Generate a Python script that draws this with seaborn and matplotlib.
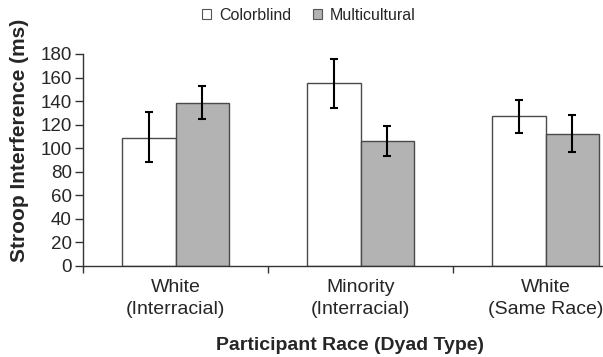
import matplotlib
matplotlib.use("Agg")
import matplotlib.pyplot as plt
from matplotlib.patches import Patch
import seaborn as sns
import pandas as pd

# Data
groups = ["White\n(Interracial)", "Minority\n(Interracial)", "White\n(Same Race)"]
conditions = ["Colorblind", "Multicultural"]
colorblind_mean = [109, 155, 127]
multicultural_mean = [138, 106, 112]
colorblind_lo = [88, 134, 113]
colorblind_hi = [131, 176, 141]
multicultural_lo = [125, 93, 97]
multicultural_hi = [153, 119, 128]
yticks = list(range(0, 181, 20))

PALETTE = {"Colorblind": "#ffffff", "Multicultural": "#b3b3b3"}
EDGE = "#4a4a4a"

sns.set_theme(style="white")
plt.rcParams["font.family"] = ["Liberation Sans", "DejaVu Sans"]

df = pd.DataFrame({
    "group": groups * 2,
    "condition": ["Colorblind"] * 3 + ["Multicultural"] * 3,
    "value": colorblind_mean + multicultural_mean,
})

fig = plt.figure(figsize=(6.03, 3.57), dpi=100)
# axes runs past the right edge of the figure, as in the reference
ax = fig.add_axes([83 / 603, 91 / 357, 555 / 603, 212 / 357])

sns.barplot(data=df, x="group", y="value", hue="condition", order=groups,
            hue_order=conditions, palette=PALETTE, width=0.575, errorbar=None,
            edgecolor=EDGE, linewidth=1.0, legend=False, ax=ax)

# error bars on the bar centers
lo_all = colorblind_lo + multicultural_lo
hi_all = colorblind_hi + multicultural_hi
for patch, lo, hi, m in zip(ax.patches, lo_all, hi_all, df["value"]):
    xc = patch.get_x() + patch.get_width() / 2
    ax.errorbar(xc, m, yerr=[[m - lo], [hi - m]], color="black",
                elinewidth=1.5, capsize=3, capthick=1.5, fmt="none")

ax.set_xlim(-0.5, 2.5)
ax.set_ylim(0, 180)
ax.set_yticks(yticks)
ax.set_xticks([0, 1, 2])
ax.set_xticklabels(groups, fontsize=14, linespacing=1.4)
ax.set_xticks([-0.5, 0.5, 1.5, 2.5], minor=True)
ax.tick_params(axis="x", which="major", length=0, pad=9)
ax.tick_params(axis="x", which="minor", length=5, width=1, color="#333333",
               direction="out", bottom=True)
ax.tick_params(axis="y", length=6, width=1, color="#333333", direction="out",
               left=True, labelsize=13.5, pad=2)

for side in ["top", "right"]:
    ax.spines[side].set_visible(False)
for side in ["left", "bottom"]:
    ax.spines[side].set_color("#333333")
    ax.spines[side].set_linewidth(1.0)

ax.set_xlabel("Participant Race (Dyad Type)", fontsize=14, fontweight="bold", va="center")
ax.xaxis.set_label_coords((350 - 83) / 555, (266 - 346) / 212)
ax.set_ylabel("Stroop Interference (ms)", fontsize=15, fontweight="bold", va="center")
ax.yaxis.set_label_coords((19 - 83) / 555, (266 - 140) / 212)

handles = [Patch(facecolor=PALETTE[c], edgecolor="#555555", linewidth=0.8, label=c)
           for c in conditions]
fig.legend(handles=handles, loc="center", bbox_to_anchor=(309 / 603, 1 - 15 / 357), ncol=2,
           frameon=False, fontsize=11.5, handlelength=0.55, handleheight=0.55,
           handletextpad=0.5, columnspacing=1.4, borderpad=0)

fig.savefig("out.png", dpi=100)
